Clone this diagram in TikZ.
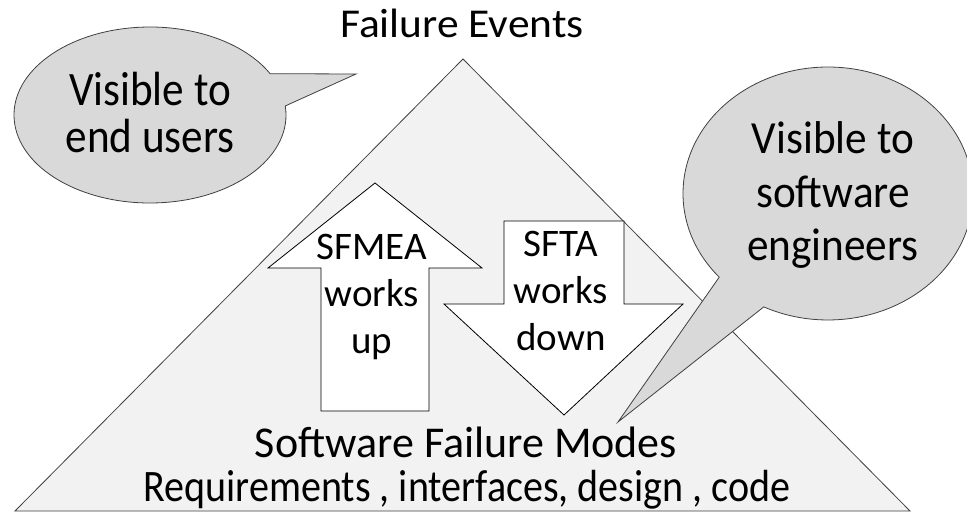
\documentclass[tikz,border=0pt]{standalone}
\usepackage{fontspec}
\setmainfont{Carlito}
\newfontfamily\userfont[FakeStretch=0.9]{Carlito}
\newfontfamily\engfont[FakeStretch=0.94]{Carlito}
\newfontfamily\areafont[FakeStretch=0.89]{Carlito}
\newfontfamily\eventfont[FakeStretch=1.06]{Carlito}
\usepackage{xcolor}

\definecolor{pyramidgray}{HTML}{F2F2F2}
\definecolor{bubblegray}{HTML}{D9D9D9}
\definecolor{edgegray}{HTML}{404040}

\begin{document}
\begin{tikzpicture}[x=1pt,y=-1pt]
\tikzset{pyramid/.style={fill=pyramidgray,draw=edgegray,line width=0.8pt}}
\tikzset{bigarrow/.style={fill=white,draw=black,line width=0.8pt}}
\tikzset{bubble/.style={fill=bubblegray,draw=edgegray,line width=0.8pt}}
\tikzset{bubbletext/.style={align=center,inner sep=0pt}}
\tikzset{arrowtext/.style={align=center,inner sep=0pt,font=\fontsize{39}{47}\selectfont}}
\tikzset{title/.style={anchor=base,inner sep=0pt}}

\useasboundingbox (0,0) rectangle (967,513);

\draw[pyramid] (15,511) -- (463,59) -- (910,511) -- cycle;

\draw[bigarrow] (321,411) -- (321,268) -- (268,268) -- (375,183) -- (482,268) -- (429,268) -- (429,411) -- cycle;
\draw[bigarrow] (504,221) -- (624,221) -- (624,304) -- (683,304) -- (564,415) -- (444,304) -- (504,304) -- cycle;

\node[arrowtext] (fmea) at (372,297) {SFMEA\\works\\up};
\node[arrowtext] (fta) at (561,291) {SFTA\\works\\down};

% callouts
\coordinate (userspot) at (150,115);
\coordinate (engspot) at (828,193.5);
\draw[bubble] (userspot) ++(-5.9:136 and 88) arc[start angle=-5.9,end angle=332,x radius=136,y radius=88] -- (356,74) -- cycle;
\draw[bubble] (engspot) ++(138.6:145 and 126.5) arc[start angle=138.6,end angle=476.3,x radius=145,y radius=126.5] -- (618,422) -- cycle;

\node[bubbletext,font=\userfont\fontsize{48}{47}\selectfont] (users) at (150,113) {Visible to\\end users};
\node[bubbletext,font=\engfont\fontsize{46}{53.5}\selectfont] (engineers) at (833,195) {Visible to\\software\\engineers};

\node[title,font=\eventfont\fontsize{41}{49}\selectfont] (events) at (462,38) {Failure Events};
\node[title,font=\fontsize{44}{53}\selectfont] (modes) at (466,457) {Software Failure Modes};
\node[title,font=\areafont\fontsize{45}{54}\selectfont] (areas) at (467,501) {Requirements , interfaces, design , code};

\end{tikzpicture}
\end{document}
